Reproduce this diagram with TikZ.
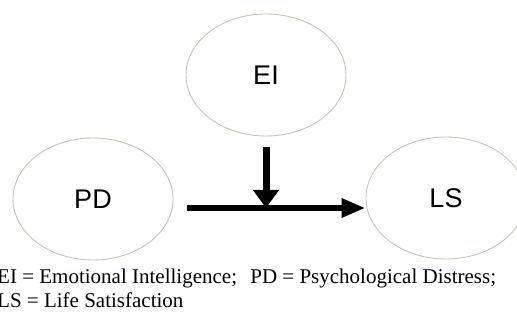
\documentclass[tikz,border=0pt]{standalone}
\usepackage{fontspec}
\setmainfont{Liberation Serif}
\newfontfamily\labelfont{Liberation Sans}
\usetikzlibrary{arrows.meta,shapes.geometric}
\definecolor{ovalgray}{RGB}{196,198,184}
\tikzset{
  construct/.style={
    ellipse,draw=ovalgray,line width=0.9pt,minimum width=160pt,
    minimum height=122pt,inner sep=0pt,font=\labelfont\fontsize{27}{30}\selectfont
  },
  patharrow/.style={line width=6.5pt,-{Triangle[length=24pt,width=18pt]}},
  modarrow/.style={line width=7pt,-{Triangle[length=18pt,width=25pt]}},
  legendtext/.style={anchor=base west,inner sep=0pt,font=\fontsize{21}{25}\selectfont}
}

\begin{document}
\begin{tikzpicture}[x=1pt,y=-1pt]
  \useasboundingbox (0,0) rectangle (517,320);
  \node[construct] (EI) at (266,75) {EI};
  \node[construct] (PD) at (93,199) {PD};
  \node[construct] (LS) at (446,198) {LS};
  \coordinate (join) at (266,208);
  \draw[patharrow,shorten <=14pt] (PD.east |- join) -- (LS.west |- join);
  \draw[modarrow,shorten <=11pt] (EI.south) -- (join);
  % key to the abbreviations
  \node[legendtext] (key1) at (-3,284) {EI = Emotional Intelligence;\hspace{8pt} PD = Psychological Distress;};
  \node[legendtext] (key2) at (-3,308) {LS = Life Satisfaction};
\end{tikzpicture}
\end{document}
